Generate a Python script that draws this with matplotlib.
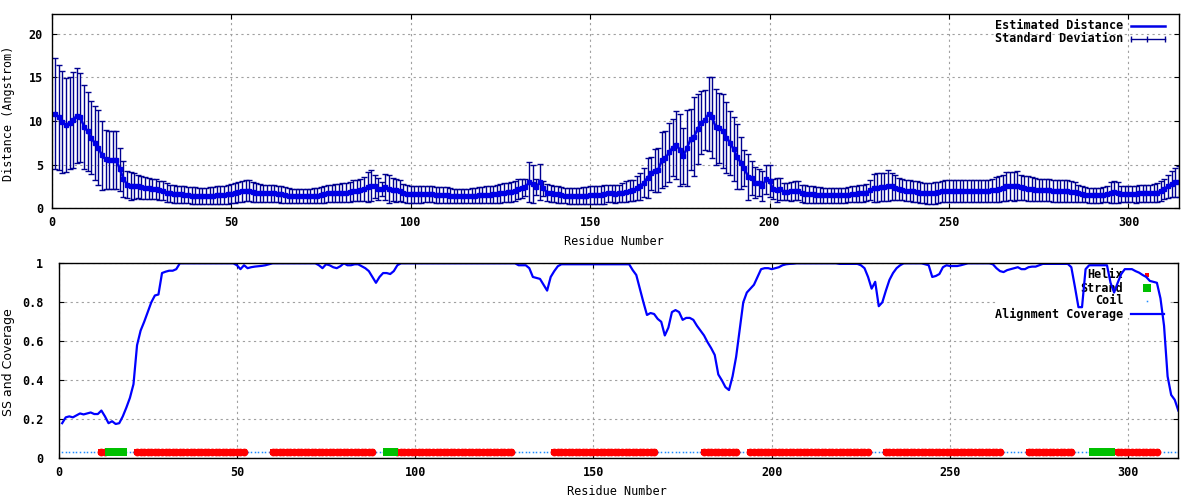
import numpy as np
import matplotlib.pyplot as plt
from matplotlib.patches import Rectangle

plt.rcParams['font.family'] = ['DejaVu Sans Mono', 'DejaVu Sans']
plt.rcParams['font.weight'] = 'bold'

# residue numbers
residue = np.arange(1, 315)

# estimated distance (Angstrom), one value per residue
distance = [
    10.8, 10.4, 9.9, 9.5, 9.8, 10.15, 10.6, 10.4, 9.35, 8.8,
    8.1, 7.45, 6.95, 6.05, 5.6, 5.55, 5.5, 5.5, 4.45, 3.4,
    2.7, 2.6, 2.55, 2.5, 2.4, 2.35, 2.3, 2.25, 2.2, 2.05,
    2.0, 1.8, 1.7, 1.65, 1.6, 1.6, 1.55, 1.5, 1.45, 1.45,
    1.4, 1.4, 1.4, 1.45, 1.45, 1.5, 1.5, 1.55, 1.6, 1.65,
    1.75, 1.85, 1.95, 2.0, 2.0, 1.9, 1.8, 1.75, 1.7, 1.7,
    1.7, 1.7, 1.65, 1.6, 1.5, 1.45, 1.4, 1.4, 1.4, 1.4,
    1.4, 1.4, 1.45, 1.45, 1.5, 1.6, 1.7, 1.7, 1.75, 1.75,
    1.8, 1.8, 1.9, 2.0, 2.0, 2.05, 2.2, 2.4, 2.6, 2.5,
    2.25, 2.25, 2.4, 2.2, 2.15, 2.05, 2.0, 1.75, 1.65, 1.6,
    1.6, 1.6, 1.6, 1.6, 1.6, 1.6, 1.55, 1.55, 1.5, 1.5,
    1.45, 1.4, 1.4, 1.4, 1.4, 1.4, 1.45, 1.45, 1.5, 1.5,
    1.55, 1.55, 1.6, 1.65, 1.7, 1.8, 1.85, 1.9, 2.0, 2.2,
    2.3, 2.4, 3.0, 2.8, 2.4, 3.0, 2.3, 1.8, 1.7, 1.65,
    1.6, 1.5, 1.45, 1.4, 1.4, 1.4, 1.4, 1.45, 1.45, 1.5,
    1.5, 1.5, 1.55, 1.6, 1.7, 1.7, 1.65, 1.7, 1.8, 1.9,
    2.0, 2.05, 2.3, 2.5, 2.95, 3.5, 4.0, 4.3, 4.4, 5.5,
    5.7, 6.4, 6.95, 7.25, 6.7, 6.0, 6.9, 7.9, 8.2, 9.1,
    9.8, 10.1, 10.8, 10.4, 9.3, 9.2, 8.85, 8.1, 7.5, 6.75,
    5.9, 5.2, 4.6, 3.6, 3.45, 2.95, 2.95, 2.55, 3.3, 3.1,
    2.2, 2.1, 2.2, 1.9, 1.9, 1.95, 2.0, 2.0, 1.7, 1.65,
    1.6, 1.6, 1.55, 1.55, 1.5, 1.5, 1.5, 1.5, 1.5, 1.5,
    1.5, 1.55, 1.6, 1.65, 1.7, 1.7, 1.8, 2.05, 2.3, 2.35,
    2.4, 2.45, 2.6, 2.5, 2.35, 2.25, 2.1, 2.0, 2.0, 1.95,
    1.9, 1.8, 1.75, 1.7, 1.7, 1.75, 1.85, 1.95, 1.95, 1.95,
    2.0, 2.0, 1.95, 1.95, 1.95, 2.0, 2.0, 1.95, 1.95, 2.0,
    2.0, 2.05, 2.15, 2.2, 2.3, 2.5, 2.55, 2.5, 2.6, 2.4,
    2.3, 2.25, 2.2, 2.15, 2.1, 2.05, 2.05, 2.05, 2.0, 2.0,
    2.0, 2.0, 2.0, 1.9, 1.85, 1.7, 1.6, 1.55, 1.5, 1.5,
    1.5, 1.5, 1.55, 1.6, 1.8, 1.85, 1.8, 1.65, 1.6, 1.6,
    1.6, 1.6, 1.7, 1.7, 1.7, 1.7, 1.75, 1.8, 2.0, 2.25,
    2.5, 2.8, 3.0, 3.05,
]

# standard deviation of the distance
std_dev = [
    6.35, 6.0, 5.85, 5.4, 5.25, 5.5, 5.4, 5.1, 4.8, 4.55,
    4.2, 4.2, 4.3, 3.9, 3.4, 3.35, 3.3, 3.3, 2.5, 2.05,
    1.55, 1.6, 1.45, 1.35, 1.3, 1.25, 1.2, 1.15, 1.1, 1.1,
    1.1, 1.05, 1.0, 1.0, 1.0, 0.95, 0.95, 0.95, 0.95, 0.95,
    0.95, 0.95, 0.95, 1.0, 1.0, 1.0, 1.05, 1.05, 1.1, 1.1,
    1.1, 1.15, 1.2, 1.2, 1.2, 1.15, 1.1, 1.05, 1.0, 1.0,
    1.0, 1.0, 0.95, 0.95, 0.9, 0.9, 0.85, 0.85, 0.85, 0.85,
    0.85, 0.85, 0.85, 0.9, 0.9, 0.95, 1.0, 1.0, 1.05, 1.05,
    1.05, 1.1, 1.15, 1.2, 1.2, 1.25, 1.4, 1.7, 1.8, 1.3,
    1.25, 0.8, 1.5, 1.65, 1.35, 1.35, 1.2, 1.0, 1.0, 1.0,
    0.95, 0.95, 0.95, 0.9, 0.9, 0.9, 0.9, 0.9, 0.9, 0.9,
    0.85, 0.85, 0.85, 0.85, 0.85, 0.85, 0.85, 0.9, 0.9, 0.95,
    0.95, 0.95, 0.95, 1.0, 1.05, 1.1, 1.1, 1.15, 1.15, 1.1,
    1.1, 1.0, 2.3, 2.2, 0.9, 2.1, 0.85, 0.95, 0.95, 0.95,
    0.95, 0.95, 0.9, 0.9, 0.9, 0.9, 0.95, 0.95, 1.0, 1.05,
    1.05, 1.05, 1.05, 1.1, 1.0, 1.0, 1.0, 1.0, 1.1, 1.2,
    1.2, 1.2, 1.4, 1.5, 1.65, 2.3, 1.9, 2.45, 2.5, 3.2,
    3.1, 3.4, 3.25, 3.85, 4.1, 3.2, 4.4, 3.5, 4.5, 4.0,
    3.6, 3.4, 4.2, 4.6, 4.4, 4.0, 4.2, 4.1, 3.65, 3.65,
    3.7, 3.0, 2.05, 2.6, 1.95, 1.75, 1.5, 1.75, 1.65, 1.8,
    1.1, 1.4, 1.25, 1.0, 1.0, 1.1, 1.1, 1.1, 1.0, 1.0,
    0.95, 0.95, 0.9, 0.9, 0.85, 0.85, 0.85, 0.85, 0.85, 0.85,
    0.85, 0.85, 0.9, 0.9, 0.95, 0.95, 1.0, 1.15, 1.6, 1.65,
    1.6, 1.6, 1.8, 1.55, 1.45, 1.25, 1.2, 1.2, 1.2, 1.2,
    1.2, 1.2, 1.2, 1.25, 1.25, 1.25, 1.2, 1.2, 1.25, 1.25,
    1.25, 1.25, 1.25, 1.25, 1.25, 1.25, 1.25, 1.25, 1.25, 1.25,
    1.25, 1.3, 1.4, 1.45, 1.5, 1.65, 1.65, 1.7, 1.7, 1.4,
    1.4, 1.4, 1.35, 1.3, 1.25, 1.25, 1.25, 1.25, 1.25, 1.25,
    1.25, 1.25, 1.25, 1.2, 1.15, 1.0, 0.9, 0.85, 0.85, 0.85,
    0.85, 0.85, 0.85, 0.9, 1.25, 1.3, 1.25, 0.95, 0.9, 0.9,
    0.9, 0.95, 1.0, 1.0, 1.0, 1.0, 1.0, 1.05, 1.15, 1.15,
    1.3, 1.5, 1.65, 1.8,
]

# alignment coverage (fraction)
coverage = [
    0.18, 0.21, 0.215, 0.21, 0.22, 0.23, 0.225, 0.23, 0.235, 0.227,
    0.227, 0.245, 0.215, 0.18, 0.19, 0.176, 0.18, 0.215, 0.26, 0.31,
    0.38, 0.58, 0.655, 0.70, 0.75, 0.80, 0.835, 0.84, 0.95, 0.957,
    0.962, 0.962, 0.97, 1.0, 1.0, 1.0, 1.0, 1.0, 1.0, 1.0,
    1.0, 1.0, 1.0, 1.0, 1.0, 1.0, 1.0, 1.0, 1.0, 0.99,
    0.97, 0.99, 0.975, 0.98, 0.983, 0.985, 0.987, 0.99, 0.995, 1.0,
    1.0, 1.0, 1.0, 1.0, 1.0, 1.0, 1.0, 1.0, 1.0, 1.0,
    1.0, 1.0, 0.99, 0.975, 0.995, 0.99, 0.98, 0.975, 0.985, 1.0,
    0.99, 0.99, 0.995, 0.995, 0.985, 0.975, 0.96, 0.93, 0.90, 0.93,
    0.95, 0.95, 0.945, 0.96, 0.99, 1.0, 1.0, 1.0, 1.0, 1.0,
    1.0, 1.0, 1.0, 1.0, 1.0, 1.0, 1.0, 1.0, 1.0, 1.0,
    1.0, 1.0, 1.0, 1.0, 1.0, 1.0, 1.0, 1.0, 1.0, 1.0,
    1.0, 1.0, 1.0, 1.0, 1.0, 1.0, 1.0, 1.0, 0.99, 0.99,
    0.99, 0.975, 0.93, 0.925, 0.92, 0.89, 0.86, 0.93, 0.96, 0.985,
    0.995, 0.995, 0.995, 0.995, 0.995, 0.995, 0.995, 0.995, 0.995, 0.995,
    0.995, 0.995, 0.995, 0.995, 0.995, 0.995, 0.995, 0.995, 0.995, 0.995,
    0.965, 0.94, 0.87, 0.80, 0.735, 0.745, 0.74, 0.715, 0.70, 0.63,
    0.67, 0.75, 0.76, 0.75, 0.71, 0.72, 0.72, 0.71, 0.68, 0.655,
    0.63, 0.595, 0.565, 0.53, 0.43, 0.40, 0.365, 0.35, 0.42, 0.52,
    0.66, 0.80, 0.85, 0.87, 0.89, 0.93, 0.97, 0.975, 0.975, 0.97,
    0.975, 0.98, 0.99, 0.995, 0.997, 0.998, 1.0, 1.0, 1.0, 1.0,
    1.0, 1.0, 1.0, 1.0, 1.0, 1.0, 1.0, 1.0, 0.997, 0.997,
    0.997, 0.997, 0.997, 0.997, 0.99, 0.975, 0.93, 0.87, 0.905, 0.78,
    0.80, 0.86, 0.915, 0.95, 0.975, 0.99, 1.0, 1.0, 1.0, 1.0,
    1.0, 1.0, 0.995, 0.99, 0.93, 0.935, 0.945, 0.98, 0.99, 0.986,
    0.986, 0.986, 0.99, 0.995, 1.0, 1.0, 1.0, 1.0, 1.0, 1.0,
    1.0, 0.995, 0.975, 0.96, 0.955, 0.965, 0.97, 0.975, 0.98, 0.97,
    0.97, 0.98, 0.983, 0.983, 0.99, 0.997, 0.997, 0.997, 0.997, 0.997,
    0.997, 0.997, 0.997, 0.98, 0.88, 0.775, 0.775, 0.97, 0.99, 0.99,
    0.99, 0.99, 0.99, 0.99, 0.90, 0.85, 0.90, 0.945, 0.97, 0.97,
    0.97, 0.96, 0.952, 0.94, 0.93, 0.91, 0.905, 0.90, 0.82, 0.68,
    0.42, 0.325, 0.30, 0.245,
]

# secondary structure segments: (type, first residue, last residue)
ss_segments = [
    ("C", 1, 11), ("H", 12, 13), ("E", 14, 18), ("C", 19, 21),
    ("H", 22, 52), ("C", 53, 59), ("H", 60, 88), ("C", 89, 91),
    ("E", 92, 94), ("H", 95, 127), ("C", 128, 138), ("H", 139, 167),
    ("C", 168, 180), ("H", 181, 190), ("C", 191, 193), ("H", 194, 227),
    ("C", 228, 231), ("H", 232, 264), ("C", 265, 271), ("H", 272, 284),
    ("C", 285, 289), ("E", 290, 295), ("C", 296, 296), ("H", 297, 308),
    ("C", 309, 314),
]
ss_level = 0.03

top_yticks = [0, 5, 10, 15, 20]
bot_yticks = [0, 0.2, 0.4, 0.6, 0.8, 1]
bot_yticklabels = ["0", "0.2", "0.4", "0.6", "0.8", "1"]
xticks = [0, 50, 100, 150, 200, 250, 300]

ss = []
for kind, first, last in ss_segments:
    ss += [kind] * (last - first + 1)
ss = np.array(ss)

mono = 8.5
grid_kw = dict(color='#a0a0a0', linestyle=(0, (2, 3)), linewidth=0.8)

fig = plt.figure(figsize=(12, 5), dpi=100)

# ---------- top panel: distance ----------
ax1 = fig.add_axes([51.7 / 1200, 1 - 208.3 / 500, 1127 / 1200, 194 / 500])
ax1.errorbar(residue, distance, yerr=std_dev, fmt='none', ecolor='#000090',
             elinewidth=1.0, capsize=2.0, capthick=1.0, zorder=3)
ax1.plot(residue, distance, color='#0000e6', lw=1.8, marker='s', ms=2.2, zorder=4)
ax1.set_xlim(0, 314)
ax1.set_ylim(0, 22.2)
ax1.set_xticks(xticks)
ax1.set_yticks(top_yticks)
ax1.grid(True, **grid_kw)
ax1.set_axisbelow(True)
ax1.set_xlabel("Residue Number", fontsize=mono)
ax1.set_ylabel("Distance (Angstrom)", fontsize=mono)
ax1.xaxis.set_label_coords(0.4985, -0.137)
ax1.yaxis.set_label_coords(-0.0326, 0.49)
ax1.tick_params(axis='x', pad=5.5)
ax1.tick_params(axis='y', pad=6.3)

# legend in gnuplot style (text right, sample left)
top_rows = [0.9397, 0.8727]
ax1.text(0.9509, top_rows[0], "Estimated Distance", transform=ax1.transAxes,
         ha='right', va='center', fontsize=mono)
ax1.text(0.9509, top_rows[1], "Standard Deviation", transform=ax1.transAxes,
         ha='right', va='center', fontsize=mono)
ax1.plot([0.9577, 0.9879], [top_rows[0]] * 2, transform=ax1.transAxes,
         color='#0000e6', lw=1.8, clip_on=False)
ax1.plot([0.9577, 0.9879], [top_rows[1]] * 2, transform=ax1.transAxes,
         color='#000090', lw=1.0, clip_on=False)
ax1.plot([0.9577, 0.9723, 0.9879], [top_rows[1]] * 3, transform=ax1.transAxes,
         color='#000090', ls='none', marker='|', ms=5, mew=1.0, clip_on=False)

# ---------- bottom panel: secondary structure and coverage ----------
ax2 = fig.add_axes([58.6 / 1200, 41.7 / 500, 1119.7 / 1200, 195 / 500])
ax2.grid(True, **grid_kw)
ax2.set_axisbelow(True)
ax2.add_patch(Rectangle((0.838, 0.7195), 0.153, 0.2805, transform=ax2.transAxes,
                        facecolor='white', edgecolor='none', zorder=1))

coil = ss == "C"
helix = ss == "H"
strand = ss == "E"
ax2.plot(residue[coil], np.full(coil.sum(), ss_level), ls='none', marker='s',
         ms=1.1, color='#1e8cff', mew=0, zorder=3)
ax2.plot(residue[helix], np.full(helix.sum(), ss_level), ls='none', marker='s',
         ms=3.8, color='#ff0000', mew=0, zorder=3)
ax2.plot(residue[helix], np.full(helix.sum(), ss_level), ls='none', marker='o',
         ms=5.6, color='#ff0000', mew=0, zorder=3)
ax2.plot(residue[strand], np.full(strand.sum(), ss_level), ls='none', marker='s',
         ms=5.2, color='#00c000', mew=0, zorder=3)
ax2.plot(residue, coverage, color='#0000ff', lw=1.6, zorder=4)

ax2.set_xlim(0, 314)
ax2.set_ylim(0, 1)
ax2.set_xticks(xticks)
ax2.set_yticks(bot_yticks)
ax2.set_yticklabels(bot_yticklabels)
ax2.set_xlabel("Residue Number", fontsize=mono)
ax2.set_ylabel("SS and Coverage", fontsize=9, family='DejaVu Sans', weight='normal')
ax2.xaxis.set_label_coords(0.4987, -0.137)
ax2.yaxis.set_label_coords(-0.039, 0.494)
ax2.tick_params(axis='x', pad=5.5)
ax2.tick_params(axis='y', pad=11)

rows = [0.940, 0.872, 0.808, 0.740]
for label, yy in zip(["Helix", "Strand", "Coil", "Alignment Coverage"], rows):
    ax2.text(0.9509, yy, label, transform=ax2.transAxes, ha='right', va='center',
             fontsize=mono, zorder=2)
ax2.plot([0.9723], [rows[0]], transform=ax2.transAxes, marker='s', ms=3,
         color='#ff0000', mew=0, clip_on=False, zorder=3)
ax2.plot([0.9723], [rows[1]], transform=ax2.transAxes, marker='s', ms=5.2,
         color='#00c000', mew=0, clip_on=False, zorder=3)
ax2.plot([0.9723], [rows[2]], transform=ax2.transAxes, marker='s', ms=1.1,
         color='#1e8cff', mew=0, clip_on=False, zorder=3)
ax2.plot([0.9577, 0.9875], [rows[3], rows[3]], transform=ax2.transAxes,
         color='#0000ff', lw=1.6, clip_on=False, zorder=3)

for ax in (ax1, ax2):
    ax.tick_params(direction='in', length=3.6, width=0.8, top=True, right=True,
                   labelsize=mono)
    for sp in ax.spines.values():
        sp.set_linewidth(1.0)
        sp.set_zorder(5)

fig.savefig("out.png", dpi=100)
